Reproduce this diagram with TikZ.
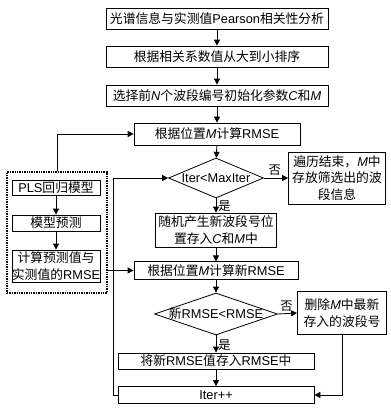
\documentclass[tikz,border=0pt]{standalone}
\usepackage{fontspec}
\setmainfont{Noto Sans CJK SC}
\newfontfamily\latfont{Liberation Sans}
\usetikzlibrary{arrows.meta,shapes.geometric}

\newcommand{\la}[1]{{\latfont #1}}
\newcommand{\va}[1]{{\latfont\itshape #1}}

\tikzset{
  flowbox/.style={draw, rectangle, inner sep=0pt, align=center,
    font=\fontsize{9.6}{12.6}\selectfont},
  flowdec/.style={draw, diamond, inner sep=0pt,
    label={[font=\fontsize{9.6}{12.6}\selectfont]center:#1}},
  flowarrow/.style={-{Triangle[length=4.5pt,width=4.5pt]}},
  yesno/.style={font=\fontsize{9.2}{11}\selectfont, inner sep=1.5pt},
}

\begin{document}
\begin{tikzpicture}[x=0.75pt, y=-0.75pt, line width=0.6pt]

            \useasboundingbox (0,0) rectangle (391,411);

            % --------------------------------------------------
            % main column
            % --------------------------------------------------
            \node[flowbox, minimum width=166.5pt, minimum height=15.75pt] (pearson) at (217,19)
                {光谱信息与实测值\la{Pearson}相关性分析};
            \node[flowbox, minimum width=166.5pt, minimum height=15.75pt] (sort) at (217,56.5)
                {根据相关系数值从大到小排序};
            \node[flowbox, minimum width=166.5pt, minimum height=15.75pt] (init) at (217,95.5)
                {选择前\va{N}个波段编号初始化参数\va{C}和\va{M}};
            \node[flowbox, minimum width=124.5pt, minimum height=16.5pt] (rmse) at (217,134)
                {根据位置\va{M}计算\la{RMSE}};
            \node[flowdec={\la{Iter<MaxIter}}, minimum width=71.25pt, minimum height=30pt] (iterchk) at (216,178) {};
            \node[flowbox, minimum width=72.75pt, minimum height=39pt] (finish) at (337,178)
                {遍历结束，\va{M}中\\存放筛选出的波\\段信息};
            \node[flowbox, minimum width=90.75pt, minimum height=25.5pt] (newpos) at (216,230)
                {随机产生新波段号位\\置存入\va{C}和\va{M}中};
            \node[flowbox, minimum width=123pt, minimum height=13pt] (newrmse) at (216,270.5)
                {根据位置\va{M}计算新\la{RMSE}};
            \node[flowdec={新\la{RMSE<RMSE}}, minimum width=92.25pt, minimum height=31.5pt] (cmp) at (216,314) {};
            \node[flowbox, minimum width=66.75pt, minimum height=32pt] (delete) at (342,313)
                {删除\va{M}中最新\\存入的波段号};
            \node[flowbox, minimum width=147pt, minimum height=12pt] (store) at (216,361)
                {将新\la{RMSE}值存入\la{RMSE}中};
            \node[flowbox, minimum width=147pt, minimum height=12.75pt] (iterinc) at (216,395)
                {\la{Iter++}};

            % --------------------------------------------------
            % PLS block (dashed)
            % --------------------------------------------------
            \node[draw, dash pattern=on 1pt off 0.8pt, line width=0.8pt,
                minimum width=75pt, minimum height=90.75pt, inner sep=0pt] (pls) at (57,232.5) {};
            \node[flowbox, minimum width=66pt, minimum height=11.25pt] (plsmodel) at (56,187.5)
                {\la{PLS}回归模型};
            \node[flowbox, minimum width=66pt, minimum height=12pt] (predict) at (56,223)
                {模型预测};
            \node[flowbox, minimum width=66pt, minimum height=24pt] (calc) at (56,266)
                {计算预测值与\\实测值的\la{RMSE}};

            \coordinate (loopx) at (113,0);

            % arrows
            \draw[flowarrow] (pearson) -- (sort);
            \draw[flowarrow] (sort) -- (init);
            \draw[flowarrow] (init) -- (rmse);
            \draw[flowarrow] (rmse) -- (iterchk);
            \draw[flowarrow] (iterchk.east) -- node[yesno, above, pos=0.45] {否} (finish.west);
            \draw[flowarrow] (iterchk.south) -- node[yesno, right, pos=0.55] {是} (newpos.north);
            \draw[flowarrow] (newpos) -- (newrmse);
            \draw[flowarrow] (newrmse) -- (cmp);
            \draw[flowarrow] (cmp.east) -- node[yesno, above, pos=0.45] {否} (delete.west);
            \draw[flowarrow] (cmp.south) -- node[yesno, right, pos=0.55] {是} (store.north);
            \draw[flowarrow] (store) -- (iterinc);
            \draw[flowarrow] (delete.south) |- (iterinc.east);
            \draw[flowarrow] (iterinc.west) -- (iterinc.west -| loopx) |- (iterchk.west);

            \draw[flowarrow] (pls.north) |- (rmse.west);
            \draw[flowarrow] (pls.east |- newrmse.west) -- (newrmse.west);
            \draw[flowarrow] (plsmodel) -- (predict);
            \draw[flowarrow] (predict) -- (calc);

        \end{tikzpicture}
\end{document}
